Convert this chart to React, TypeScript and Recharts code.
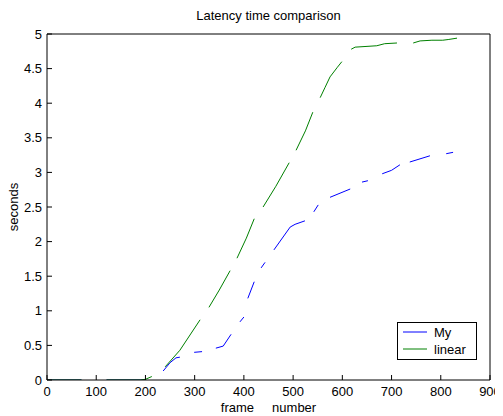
import React from 'react';
import { LineChart, Line, XAxis, YAxis, Label } from 'recharts';

const xTicks = [0, 100, 200, 300, 400, 500, 600, 700, 800, 900];
const yTicks = [0, 0.5, 1, 1.5, 2, 2.5, 3, 3.5, 4, 4.5, 5];

const seriesNames = ['My', 'linear'];
const seriesColors = ['#0000ff', '#008000'];

// null entries mark gaps in the plotted curve
const myFrames = [0, 70, 95, 121, 200, 218, 236, 250, 262, 270, 285, 299, 315, 330, 343, 358, 374, 383, 392, 400, 404, 408, 421, 428, 435, 443, 452, 461, 494, 504, 524, 533, 542, 551, 563, 575, 616, 628, 640, 652, 666, 681, 700, 717, 727, 737, 778, 795, 811, 825];
const myValues = [0, 0, null, 0, 0, null, 0.13, 0.25, 0.32, 0.33, null, 0.40, 0.41, null, 0.46, 0.49, 0.66, null, 0.84, 0.91, null, 1.18, 1.42, null, 1.62, 1.70, null, 1.88, 2.21, 2.25, 2.30, null, 2.43, 2.53, null, 2.64, 2.76, null, 2.86, 2.88, null, 2.98, 3.03, 3.11, null, 3.15, 3.24, null, 3.27, 3.29];

const linearFrames = [0, 70, 95, 121, 190, 200, 213, 226, 240, 270, 311, 320, 329, 350, 372, 379, 386, 405, 421, 430, 439, 465, 492, 499, 506, 525, 540, 547, 555, 565, 575, 590, 599, 608, 618, 626, 670, 686, 711, 727, 744, 758, 782, 804, 815, 833];
const linearValues = [0, 0, null, 0, 0, 0.01, 0.05, null, 0.19, 0.43, 0.87, null, 1.05, 1.30, 1.58, null, 1.76, 2.05, 2.33, null, 2.50, 2.80, 3.14, null, 3.32, 3.60, 3.87, null, 4.08, 4.23, 4.38, 4.52, 4.60, null, 4.78, 4.81, 4.83, 4.86, 4.87, null, 4.87, 4.90, 4.91, 4.91, 4.92, 4.94];

const myData = myFrames.map((f, i) => ({ frame: f, value: myValues[i] }));
const linearData = linearFrames.map((f, i) => ({ frame: f, value: linearValues[i] }));

const FONT = '"Liberation Sans", Arial, Helvetica, sans-serif';
const tickStyle = { fontSize: 13, fill: '#000', fontFamily: FONT };

const LegendBox = () => (
  <div style={{ position: 'absolute', left: 389, top: 314, width: 80, height: 38, border: '1px solid #000', background: '#fff', boxSizing: 'border-box' }}>
    <svg width={78} height={36} style={{ display: 'block' }}>
      {seriesNames.map((name, i) => (
        <g key={name}>
          <line x1={5} x2={29} y1={9 + i * 17} y2={9 + i * 17} stroke={seriesColors[i]} strokeWidth={1} />
          <text x={36} y={14 + i * 17} fontSize={13} fontFamily={FONT} fill="#000">{name}</text>
        </g>
      ))}
    </svg>
  </div>
);

const XLabel = (props: any) => {
  const vb = props.viewBox || { x: 0, y: 0, width: 0, height: 0 };
  return (
    <text x={vb.x + vb.width / 2} y={vb.y + 32} textAnchor="middle" fontSize={13} fontFamily={FONT} fill="#000" style={{ whiteSpace: 'pre' }}>
      {'frame     number'}
    </text>
  );
};

const YLabel = (props: any) => {
  const vb = props.viewBox || { x: 0, y: 0, width: 0, height: 0 };
  const cx = 10;
  const cy = vb.y + vb.height / 2;
  return (
    <text x={cx} y={cy} transform={`rotate(-90 ${cx} ${cy})`} textAnchor="middle" fontSize={13} fontFamily={FONT} fill="#000">
      seconds
    </text>
  );
};

export default function App() {
  return (
    <div style={{ position: 'relative', width: 495, height: 408, background: '#fff' }}>
      <LineChart width={495} height={408} margin={{ top: 25, right: 12, bottom: 6, left: 9 }}>
        <XAxis
          xAxisId={0}
          type="number"
          dataKey="frame"
          domain={[0, 900]}
          ticks={xTicks}
          interval={0}
          allowDataOverflow
          height={30}
          tickSize={-5}
          tickMargin={12}
          tick={tickStyle}
          axisLine={{ stroke: '#000' }}
          tickLine={{ stroke: '#000' }}
        >
          <Label content={<XLabel />} />
        </XAxis>
        <XAxis
          xAxisId="top"
          orientation="top"
          type="number"
          dataKey="frame"
          domain={[0, 900]}
          ticks={xTicks}
          interval={0}
          allowDataOverflow
          height={1}
          tickSize={-5}
          tick={false}
          axisLine={{ stroke: '#000' }}
          tickLine={{ stroke: '#000' }}
        >
          <Label value="Latency time comparison" position="top" offset={13} style={{ fontSize: 13, fontFamily: FONT, fill: '#000' }} />
        </XAxis>
        <YAxis
          yAxisId={0}
          type="number"
          domain={[0, 5]}
          ticks={yTicks}
          interval={0}
          allowDataOverflow
          width={30}
          tickSize={-5}
          tickMargin={10}
          tick={tickStyle}
          axisLine={{ stroke: '#000' }}
          tickLine={{ stroke: '#000' }}
        >
          <Label content={<YLabel />} />
        </YAxis>
        <YAxis
          yAxisId="right"
          orientation="right"
          type="number"
          domain={[0, 5]}
          ticks={yTicks}
          interval={0}
          allowDataOverflow
          width={1}
          tickSize={-5}
          tick={false}
          axisLine={{ stroke: '#000' }}
          tickLine={{ stroke: '#000' }}
        />
        <Line
          data={myData}
          dataKey="value"
          name={seriesNames[0]}
          stroke={seriesColors[0]}
          strokeWidth={1}
          dot={false}
          activeDot={false}
          connectNulls={false}
          isAnimationActive={false}
          type="linear"
        />
        <Line
          data={linearData}
          dataKey="value"
          name={seriesNames[1]}
          stroke={seriesColors[1]}
          strokeWidth={1}
          dot={false}
          activeDot={false}
          connectNulls={false}
          isAnimationActive={false}
          type="linear"
        />
      </LineChart>
      <LegendBox />
    </div>
  );
}
